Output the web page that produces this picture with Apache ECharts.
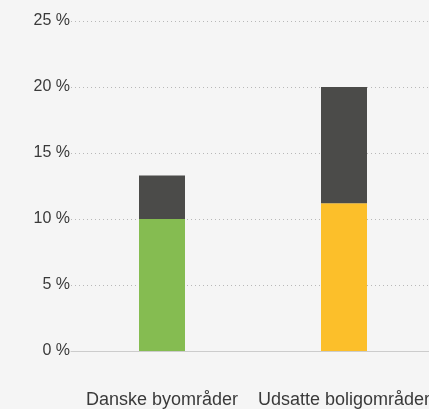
<!DOCTYPE html>
<html>
<head>
<meta charset="utf-8">
<script src="https://cdn.jsdelivr.net/npm/echarts@6/dist/echarts.min.js"></script>
<style>
html, body { margin: 0; padding: 0; background: #f5f5f5; }
#chart { width: 429px; height: 409px; }
</style>
</head>
<body>
<div id="chart"></div>
<script>
var categories = ['Danske byområder', 'Udsatte boligområder'];
var baseValues = [10.0, 11.2];
var topValues = [3.3, 8.8];
var baseColors = ['#85bc51', '#fcbf2a'];

var dom = document.getElementById('chart');
var myChart = echarts.init(dom);
var font = 'Liberation Sans, Arial, sans-serif';

option = {
    backgroundColor: '#f5f5f5',
    animation: false,
    grid: { left: 71, top: 21, width: 364, height: 330, outerBoundsMode: 'none', containLabel: false },
    xAxis: {
        type: 'category',
        data: categories,
        axisLine: { lineStyle: { color: '#cccccc', width: 1 } },
        axisTick: { show: false },
        axisLabel: { color: '#3a3a3a', fontSize: 18, fontFamily: font, margin: 40, interval: 0 }
    },
    yAxis: {
        type: 'value',
        min: 0,
        max: 25,
        interval: 5,
        axisLine: { show: false },
        axisTick: { show: false },
        axisLabel: {
            color: '#3a3a3a', fontSize: 16, fontFamily: font, margin: 1,
            formatter: function (v) { return v + ' %'; }
        },
        splitLine: { lineStyle: { color: '#b8b8b8', type: [1, 3], width: 1 } }
    },
    series: [
        {
            type: 'bar',
            stack: 'total',
            barWidth: 46,
            data: baseValues.map(function (v, i) {
                return { value: v, itemStyle: { color: baseColors[i] } };
            })
        },
        {
            type: 'bar',
            stack: 'total',
            barWidth: 46,
            itemStyle: { color: '#4b4b49' },
            data: topValues
        }
    ]
};
myChart.setOption(option, true);
</script>
</body>
</html>
